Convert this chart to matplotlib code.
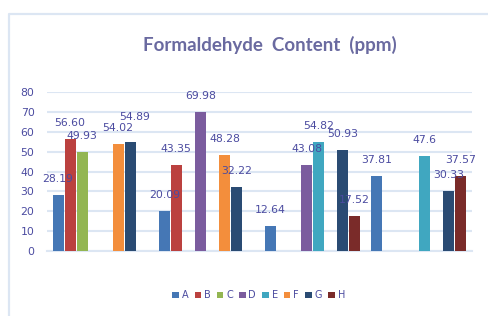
import numpy as np
import matplotlib
matplotlib.use("Agg")
import matplotlib.pyplot as plt
from matplotlib.lines import Line2D
from matplotlib.patches import Patch

# data (values kept as the labels shown on the chart, None = no bar)
groups = [0, 1, 2, 3]
series_names = ["A", "B", "C", "D", "E", "F", "G", "H"]
A = ["28.19", "20.09", "12.64", "37.81"]
B = ["56.60", "43.35", None, None]
C = ["49.93", None, None, None]
D = [None, "69.98", "43.08", None]
E = [None, None, "54.82", "47.6"]
F = ["54.02", "48.28", None, None]
G = ["54.89", "32.22", "50.93", "30.33"]
H = [None, None, "17.52", "37.57"]
yticks = [0, 10, 20, 30, 40, 50, 60, 70, 80]

series = [A, B, C, D, E, F, G, H]
colors = ["#4577B5", "#BB413F", "#93B652", "#7B5C9E", "#40A7C0",
          "#F38E3C", "#2A4B73", "#7A2B29"]
txt_color = "#4B4BA0"
grid_color = "#DCE6F3"

# a few labels were nudged in the original (points)
nudge = {(6, 0): (3.5, 18)}

fig = plt.figure(figsize=(4.88, 3.16), dpi=100)
ax = fig.add_axes([0.0963, 0.2057, 0.8709, 0.503])

slot = 12 / 106
width = slot * 11 / 12
for i, s in enumerate(series):
    for g in groups:
        if s[g] is None:
            continue
        val = float(s[g])
        xc = g + (i - 3.5) * slot
        ax.bar(xc, val, width=width, color=colors[i], zorder=3)
        dx, dy = nudge.get((i, g), (0, 11.5))
        ax.annotate(s[g], (xc, val), xytext=(dx, dy), textcoords="offset points",
                    ha="center", va="center", fontsize=7.8, color=txt_color,
                    zorder=4)

ax.set_xlim(-0.5, 3.5)
ax.set_ylim(0, 80)
ax.set_yticks(yticks)
ax.set_xticks([])
ax.yaxis.grid(True, color=grid_color, linewidth=1.5, zorder=0)
ax.tick_params(axis="y", length=0, pad=9, labelsize=7.8, labelcolor=txt_color)
for sp in ax.spines.values():
    sp.set_visible(False)
ax.axhline(0, color=grid_color, linewidth=1.5, zorder=1, clip_on=False)

fig.text(0.553, 0.858, "Formaldehyde  Content  (ppm)", ha="center", va="center",
         fontsize=13.5, fontweight="bold", color="#6A6AA0", family="Lato")

handles = [Patch(facecolor=c, label=n) for c, n in zip(colors, series_names)]
fig.legend(handles=handles, loc="center", ncol=8, frameon=False,
           bbox_to_anchor=(0.53, 0.065), fontsize=7, labelcolor=txt_color,
           handlelength=0.65, handleheight=0.65, handletextpad=0.3,
           columnspacing=0.65)

# chart frame (only left and top edges visible)
fig.add_artist(Line2D([9 / 488, 9 / 488, 1.0], [0.0, 1 - 14 / 316, 1 - 14 / 316],
                      transform=fig.transFigure, color=grid_color, linewidth=1.6))

fig.savefig("out.png", dpi=100)
